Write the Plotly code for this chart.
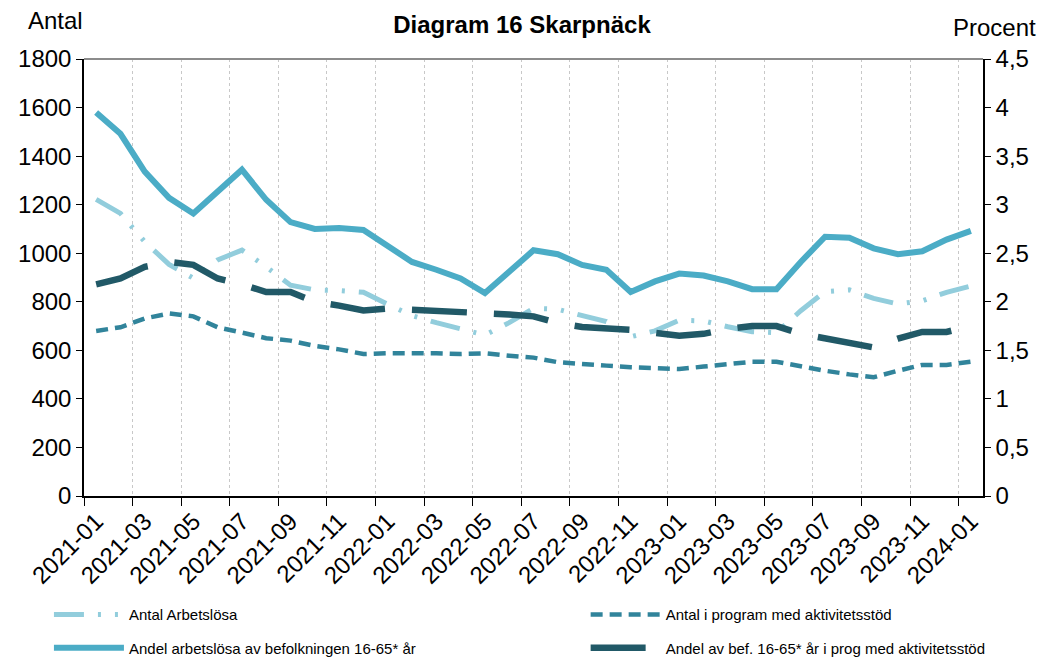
import plotly.graph_objects as go

months = [f"{y}-{m:02d}" for y in (2021, 2022, 2023) for m in range(1, 13)] + ["2024-01"]

antal_arbetslosa = [1222, 1164, 1047, 954, 897, 972, 1013, 944, 868, 849, 846, 839,
                    790, 743, 714, 686, 663, 714, 773, 769, 743, 718, 656, 680,
                    724, 721, 697, 677, 673, 763, 842, 849, 814, 791, 804, 839, 865]

antal_program = [680, 695, 731, 752, 740, 695, 673, 650, 640, 618, 604, 585,
                 588, 590, 588, 585, 588, 578, 570, 551, 542, 537, 530, 526,
                 523, 533, 542, 553, 553, 533, 516, 501, 489, 516, 540, 540, 553]

andel_arbetslosa = [3.95, 3.73, 3.34, 3.07, 2.91, 3.14, 3.36, 3.05, 2.82, 2.75, 2.76, 2.74,
                    2.57, 2.41, 2.33, 2.24, 2.09, 2.32, 2.53, 2.49, 2.38, 2.33, 2.10, 2.21,
                    2.29, 2.27, 2.21, 2.13, 2.13, 2.41, 2.67, 2.66, 2.55, 2.49, 2.52, 2.64, 2.73]

andel_program = [2.18, 2.24, 2.36, 2.41, 2.38, 2.24, 2.18, 2.10, 2.10, 2.00, 1.96, 1.91,
                 1.93, 1.92, 1.91, 1.90, 1.89, 1.87, 1.85, 1.78, 1.74, 1.73, 1.71, 1.68,
                 1.65, 1.67, 1.72, 1.75, 1.75, 1.67, 1.62, 1.57, 1.53, 1.62, 1.69, 1.69, 1.75]

left_ticks = [0, 200, 400, 600, 800, 1000, 1200, 1400, 1600, 1800]
right_ticks = [0, 0.5, 1, 1.5, 2, 2.5, 3, 3.5, 4, 4.5]
right_ticktext = ["0", "0,5", "1", "1,5", "2", "2,5", "3", "3,5", "4", "4,5"]

FONT = "Liberation Sans, Arial, sans-serif"

fig = go.Figure()
fig.add_trace(go.Scatter(
    x=months, y=andel_arbetslosa, name="Andel arbetslösa av befolkningen 16-65* år",
    yaxis="y2", mode="lines", line=dict(color="#4BACC6", width=6), legend="legend3"))
fig.add_trace(go.Scatter(
    x=months, y=antal_arbetslosa, name="Antal Arbetslösa", mode="lines",
    line=dict(color="#92CDDC", width=5, dash="30px,14px,3px,14px,3px,14px"), legend="legend"))
fig.add_trace(go.Scatter(
    x=months, y=antal_program, name="Antal i program med aktivitetsstöd", mode="lines",
    line=dict(color="#31849B", width=4.5, dash="12px,7px"), legend="legend2"))
fig.add_trace(go.Scatter(
    x=months, y=andel_program, name="Andel av bef. 16-65* år i prog med aktivitetsstöd",
    yaxis="y2", mode="lines", line=dict(color="#215967", width=6.5, dash="55px,27px"),
    legend="legend4"))

legend_common = dict(orientation="h", xanchor="left", yanchor="middle", itemwidth=70,
                     font=dict(size=15, family=FONT), bgcolor="rgba(0,0,0,0)")

fig.update_layout(
    width=1044, height=659,
    margin=dict(l=84, r=61, t=59, b=163, autoexpand=False),
    paper_bgcolor="white", plot_bgcolor="white",
    font=dict(family=FONT, color="black"),
    showlegend=True,
    title=dict(text="<b>Diagram 16 Skarpnäck</b>", x=0.5, xanchor="center",
               y=0.962, yanchor="middle", font=dict(size=24, family=FONT)),
    xaxis=dict(type="category", tickson="boundaries", dtick=2, tickangle=-45,
               tickfont=dict(size=24), ticks="outside", ticklen=8, tickcolor="black",
               showline=True, linecolor="black", linewidth=1.5,
               showgrid=True, gridcolor="#C8C8C8", griddash="dot", gridwidth=1,
               range=[-0.5, 36.5], zeroline=False, automargin=False),
    yaxis=dict(range=[0, 1800], tickvals=left_ticks, tickfont=dict(size=24),
               ticks="outside", ticklen=6, tickcolor="black",
               showline=True, linecolor="black", linewidth=1.5,
               showgrid=False, zeroline=False, automargin=False),
    yaxis2=dict(range=[0, 4.5], tickvals=right_ticks, ticktext=right_ticktext,
                overlaying="y", side="right", tickfont=dict(size=24),
                ticks="outside", ticklen=6, tickcolor="black",
                showline=True, linecolor="black", linewidth=1.5,
                showgrid=False, zeroline=False, automargin=False),
    legend=dict(x=-0.039, y=-0.272, **legend_common),
    legend2=dict(x=0.558, y=-0.272, **legend_common),
    legend3=dict(x=-0.039, y=-0.348, **legend_common),
    legend4=dict(x=0.558, y=-0.348, **legend_common),
    shapes=[dict(type="line", xref="paper", yref="paper", x0=0, x1=1, y0=1, y1=1,
                 line=dict(color="#8C8C8C", width=2))],
    annotations=[
        dict(text="Antal", xref="paper", yref="paper", x=-0.064, y=1.089,
             xanchor="left", yanchor="middle", showarrow=False, font=dict(size=24, family=FONT)),
        dict(text="Procent", xref="paper", yref="paper", x=1.061, y=1.073,
             xanchor="right", yanchor="middle", showarrow=False, font=dict(size=24, family=FONT)),
    ],
)

fig.write_html("out.html", config={"displayModeBar": False},
               post_script="document.body.style.margin='0px';document.body.style.overflow='hidden';")
